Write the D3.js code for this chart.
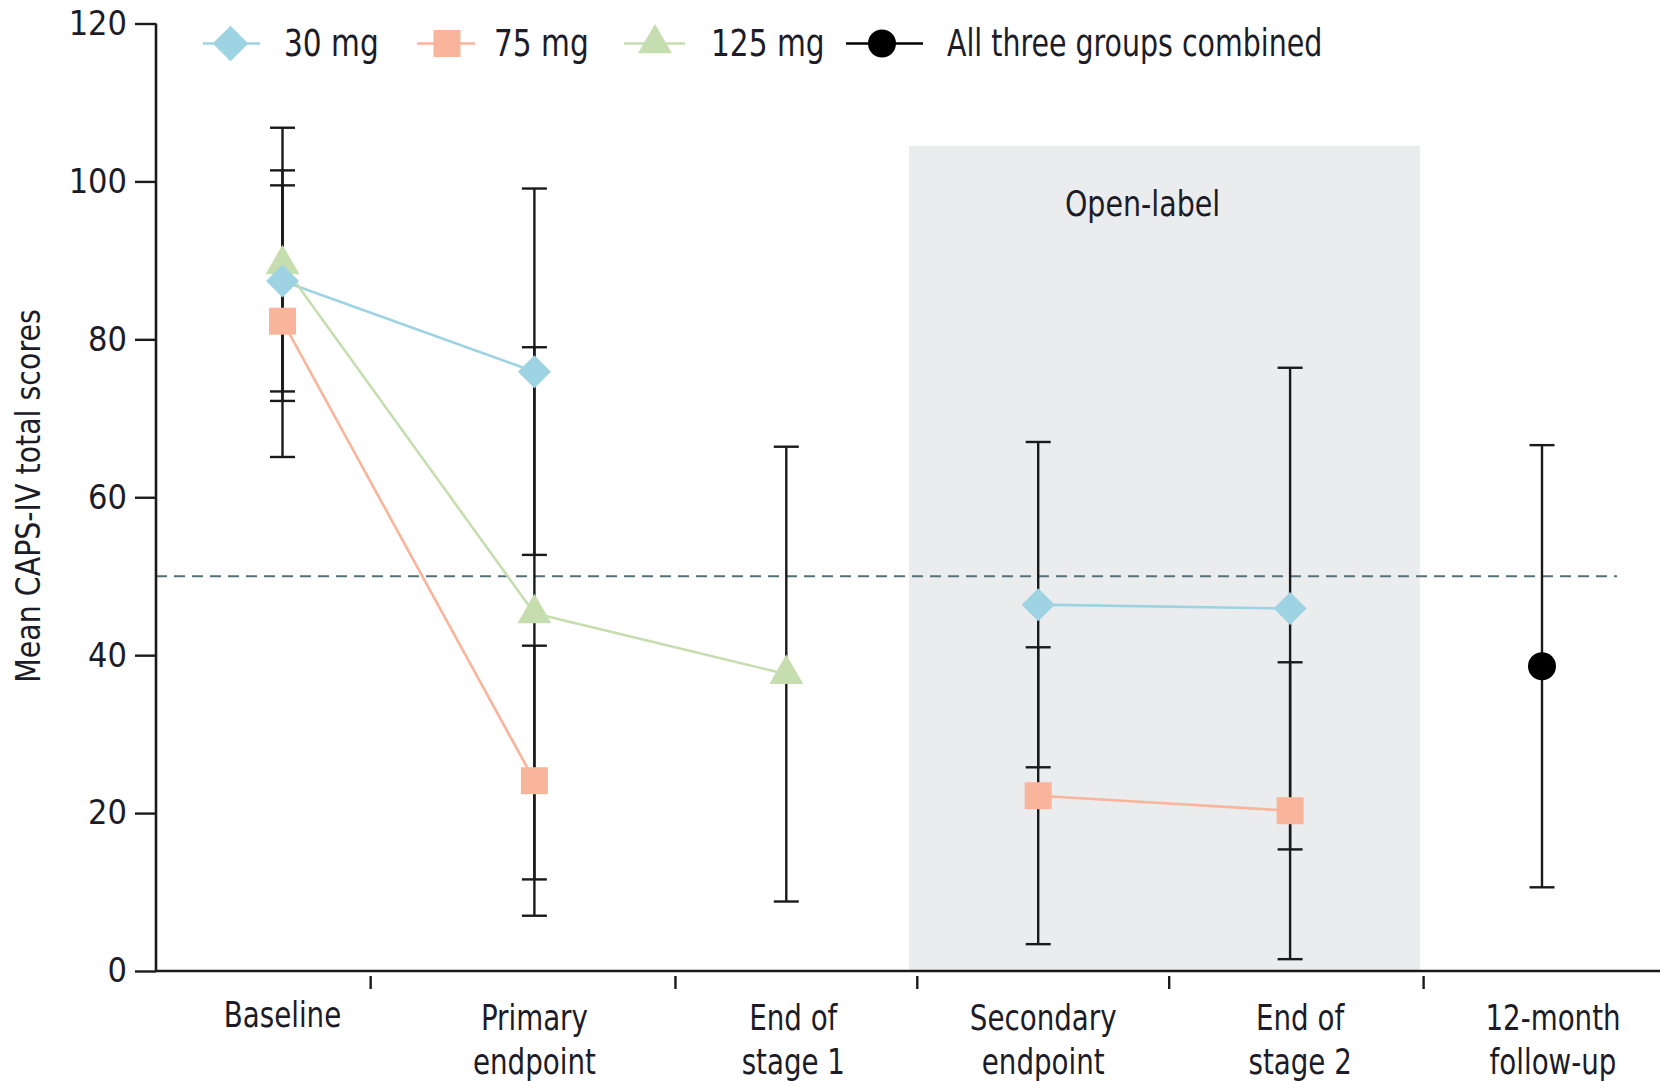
<!DOCTYPE html>
<html>
<head>
<meta charset="utf-8">
<script src="https://cdn.jsdelivr.net/npm/d3@7/dist/d3.min.js"></script>
<style>
  html, body { margin: 0; padding: 0; background: #fff; }
  svg { display: block; }
  text { font-family: "DejaVu Sans Condensed", "Liberation Sans", sans-serif; fill: #1c1c28; }
</style>
</head>
<body>
<svg id="chart" width="1665" height="1081"></svg>
<script>
// ---------- data ----------
const categories = ["Baseline", "Primary endpoint", "End of stage 1", "Secondary endpoint", "End of stage 2", "12-month follow-up"];
const categoryLines = [["Baseline"], ["Primary", "endpoint"], ["End of", "stage 1"], ["Secondary", "endpoint"], ["End of", "stage 2"], ["12-month", "follow-up"]];
const mean30  = [87.4, 75.9, null, 46.4, 45.9, null];
const sd30    = [14.0, 23.2, null, 20.6, 30.5, null];
const mean75  = [82.3, 24.1, null, 22.2, 20.3, null];
const sd75    = [17.2, 17.1, null, 18.8, 18.8, null];
const mean125 = [89.5, 45.3, 37.6, null, null, null];
const sd125   = [17.3, 33.7, 28.8, null, null, null];
const meanAll = [null, null, null, null, null, 38.6];
const sdAll   = [null, null, null, null, null, 28.0];
const seriesNames = ["30 mg", "75 mg", "125 mg", "All three groups combined"];
const yTicks = [0, 20, 40, 60, 80, 100, 120];
const xBoundaries = [0.35, 1.56, 2.52, 3.52, 4.53];   // x-axis tick marks, in category units
const openLabelSpan = [2.487, 4.516];                  // shaded open-label phase, category units
const openLabelTop = 104.5;
const threshold = 50;

// ---------- layout ----------
const svg = d3.select("#chart");
const x = d3.scaleLinear().domain([0, 5]).range([282.5, 1542]);
const y = d3.scaleLinear().domain([0, 120]).range([971, 23.5]);
const axisLeftX = 156, axisRightX = 1660;
const SX = 0.88; // horizontal compression to mimic the condensed journal typeface
const labelDx = [0, 0, 7, 5, 10, 11];

const series = [
  { name: seriesNames[0], mean: mean30,  sd: sd30,  color: "#9dd3e3", symbol: "diamond" },
  { name: seriesNames[1], mean: mean75,  sd: sd75,  color: "#f9b59b", symbol: "square" },
  { name: seriesNames[2], mean: mean125, sd: sd125, color: "#c6deaf", symbol: "triangle" },
  { name: seriesNames[3], mean: meanAll, sd: sdAll, color: "#000000", symbol: "circle" }
];

function symbolPath(kind, scale) {
  const s = scale || 1;
  if (kind === "diamond") return d3.symbol(d3.symbolSquare, 544 * s * s)();
  if (kind === "square") return d3.symbol(d3.symbolSquare, 729 * s * s)();
  if (kind === "triangle") return d3.symbol(d3.symbolTriangle, 500 * s * s)();
  return d3.symbol(d3.symbolCircle, 616 * s * s)();
}
function symbolRotate(kind) { return kind === "diamond" ? " rotate(45)" : ""; }

function ctext(parent, tx, ty, str, size, anchor, sx) {
  return parent.append("text")
    .attr("transform", `translate(${tx},${ty}) scale(${sx || SX},1)`)
    .attr("text-anchor", anchor || "start")
    .attr("font-size", size)
    .text(str);
}

// shaded open-label region
svg.append("rect")
  .attr("x", x(openLabelSpan[0]))
  .attr("y", y(openLabelTop))
  .attr("width", x(openLabelSpan[1]) - x(openLabelSpan[0]))
  .attr("height", y(0) - y(openLabelTop))
  .attr("fill", "#ebecee");

ctext(svg, (x(openLabelSpan[0]) + x(openLabelSpan[1])) / 2 - 22, y(95.6), "Open-label", 36, "middle");

// threshold dashed line
svg.append("line")
  .attr("x1", axisLeftX).attr("x2", 1617)
  .attr("y1", y(threshold)).attr("y2", y(threshold))
  .attr("stroke", "#56707a").attr("stroke-width", 2)
  .attr("stroke-dasharray", "11,7");

// y axis
const yAxis = d3.axisLeft(y).tickValues(yTicks).tickSize(21).tickPadding(8).tickFormat(d3.format("d"));
const gy = svg.append("g").attr("transform", `translate(${axisLeftX},0)`).call(yAxis);
gy.select(".domain").attr("stroke", "#1a1a1a").attr("stroke-width", 2.6).attr("d", `M0,${y(0)}V${y(120)}`);
gy.selectAll(".tick line").attr("stroke", "#1a1a1a").attr("stroke-width", 2.4);
gy.selectAll(".tick text").attr("font-size", 34).attr("fill", "#1c1c28")
  .attr("font-family", '"DejaVu Sans Condensed", sans-serif');

// x axis line
svg.append("line")
  .attr("x1", axisLeftX - 1).attr("x2", axisRightX)
  .attr("y1", y(0)).attr("y2", y(0))
  .attr("stroke", "#1a1a1a").attr("stroke-width", 2.6);

// x axis boundary ticks
svg.append("g").selectAll("line").data(xBoundaries).join("line")
  .attr("x1", d => x(d)).attr("x2", d => x(d))
  .attr("y1", y(0) + 5).attr("y2", y(0) + 18)
  .attr("stroke", "#1a1a1a").attr("stroke-width", 2.4);

// category labels
const catG = svg.append("g");
categoryLines.forEach((lines, i) => {
  const cx = x(i) + labelDx[i];
  const t = catG.append("text")
    .attr("transform", `translate(${cx},${lines.length === 1 ? 1027 : 1030}) scale(${SX},1)`)
    .attr("text-anchor", "middle")
    .attr("font-size", 35);
  lines.forEach((ln, j) => {
    t.append("tspan").attr("x", 0).attr("dy", j === 0 ? 0 : 44).text(ln);
  });
});

// y axis title
svg.append("text")
  .attr("transform", `translate(40,496) rotate(-90) scale(0.93,1)`)
  .attr("text-anchor", "middle")
  .attr("font-size", 34)
  .text("Mean CAPS-IV total scores");

// error bars
const capHalf = 12.5;
const ebG = svg.append("g").attr("stroke", "#1a1a1a").attr("stroke-width", 2.4);
series.forEach(s => {
  s.mean.forEach((m, i) => {
    if (m == null) return;
    const lo = m - s.sd[i], hi = m + s.sd[i];
    ebG.append("line").attr("x1", x(i)).attr("x2", x(i)).attr("y1", y(lo)).attr("y2", y(hi));
    ebG.append("line").attr("x1", x(i) - capHalf).attr("x2", x(i) + capHalf).attr("y1", y(lo)).attr("y2", y(lo));
    ebG.append("line").attr("x1", x(i) - capHalf).attr("x2", x(i) + capHalf).attr("y1", y(hi)).attr("y2", y(hi));
  });
});

// series lines
const line = d3.line().defined(d => d.v != null).x(d => x(d.i)).y(d => y(d.v));
series.slice(0, 3).forEach(s => {
  svg.append("path")
    .datum(s.mean.map((v, i) => ({ i, v })))
    .attr("d", line)
    .attr("fill", "none")
    .attr("stroke", s.color)
    .attr("stroke-width", 2.6);
});

// markers
[series[2], series[1], series[0], series[3]].forEach(s => {
  s.mean.forEach((m, i) => {
    if (m == null) return;
    svg.append("path")
      .attr("d", symbolPath(s.symbol))
      .attr("transform", `translate(${x(i)},${y(m)})${symbolRotate(s.symbol)}`)
      .attr("fill", s.color);
  });
});

// legend
const legendY = 43.5;
const legendItems = [
  { s: series[0], x1: 203, x2: 260, mx: 230.5, tx: 284 },
  { s: series[1], x1: 417, x2: 475, mx: 447, tx: 494 },
  { s: series[2], x1: 624, x2: 685, mx: 655, tx: 711 },
  { s: series[3], x1: 846, x2: 923, mx: 882, tx: 947 }
];
const lg = svg.append("g");
legendItems.forEach(it => {
  lg.append("line").attr("x1", it.x1).attr("x2", it.x2).attr("y1", legendY).attr("y2", legendY)
    .attr("stroke", it.s.color).attr("stroke-width", 2.6);
  lg.append("path")
    .attr("d", symbolPath(it.s.symbol, it.s.symbol === "diamond" ? 1.08 : 1))
    .attr("transform", `translate(${it.mx},${legendY})${symbolRotate(it.s.symbol)}`)
    .attr("fill", it.s.color);
  ctext(lg, it.tx, legendY + 12, it.s.name, 37, "start", it.s.symbol === "circle" ? 0.855 : 0.89);
});
</script>
</body>
</html>
